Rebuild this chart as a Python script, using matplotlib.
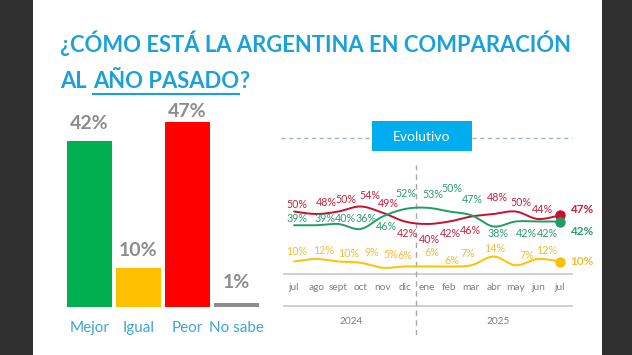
import numpy as np
import matplotlib
matplotlib.use("Agg")
from matplotlib import pyplot as plt
from matplotlib.patches import Rectangle
from matplotlib.lines import Line2D

plt.rcParams['font.family'] = ['Lato', 'DejaVu Sans']

# ---------------------------------------------------------------- data
categorias = ['Mejor', 'Igual', 'Peor', 'No sabe']
valores = [42, 10, 47, 1]

meses = ['jul', 'ago', 'sept', 'oct', 'nov', 'dic',
         'ene', 'feb', 'mar', 'abr', 'may', 'jun', 'jul']
anios = ['2024', '2025']

peor = [50, 48, 50, 54, 49, 42, 40, 42, 46, 48, 50, 44, 47]
mejor = [39, 39, 40, 36, 46, 52, 53, 50, 47, 38, 42, 42, 42]
igual = [10, 12, 10, 9, 5, 6, 6, 6, 7, 14, 7, 12, 10]

# ---------------------------------------------------------------- styles
W, H = 632, 355
AZUL = '#1BA1DA'
GRIS = '#8C8C8C'
colores_barras = ['#00B050', '#FFC000', '#FF0000', GRIS]
TITULO = 15.8

# label offsets (pixels, image direction) for each month label of the lines
dx_peor = [3, 10, 8, 9, 6, 3, 2, 1, -1, 4, 5, 5]
dy_peor = [-7, -12, -12, -11, -9, 12, 15, 12, 14, -17, -9, -10]
dx_mejor = [3, 9, 7, 6, 4, 1, 6, 3, 1, 4, 11, 10]
dy_mejor = [-7, -7, -6, -11, 10, -16, -13, -23, -16, 7, 12, 12]
dx_igual = [3, 7, 10, 11, 8, 0, 5, 3, -4, 1, 11, 9]
dy_igual = [-10, -9, -8, -10, -13, -11, -14, -6, -12, -8, -10, -8]


def fx(px):
    return px / W


def fy(py):
    return 1 - py / H


def smooth(xs, ys, n=16):
    # catmull-rom curve through the points, only for drawing
    p = np.column_stack([xs, ys]).astype(float)
    p = np.vstack([p[0], p, p[-1]])
    out = []
    t = np.linspace(0, 1, n, endpoint=False)[:, None]
    for i in range(1, len(p) - 2):
        p0, p1, p2, p3 = p[i - 1], p[i], p[i + 1], p[i + 2]
        out.append(0.5 * ((2 * p1) + (-p0 + p2) * t
                          + (2 * p0 - 5 * p1 + 4 * p2 - p3) * t ** 2
                          + (-p0 + 3 * p1 - 3 * p2 + p3) * t ** 3))
    out.append(p[-2][None])
    c = np.vstack(out)
    return c[:, 0], c[:, 1]


fig = plt.figure(figsize=(W / 100, H / 100), dpi=100)
fig.patch.set_facecolor('#303030')
fig.add_artist(Rectangle((fx(33), 0), fx(602 - 33), 1, transform=fig.transFigure,
                         facecolor='white', edgecolor='none', zorder=0))

# ---------------------------------------------------------------- title
fig.text(fx(60), fy(52), '¿CÓMO ESTÁ LA ARGENTINA EN COMPARACIÓN', color=AZUL,
         fontsize=TITULO, fontweight='bold', va='baseline', ha='left')
fig.text(fx(60), fy(88), 'AL', color=AZUL, fontsize=TITULO, fontweight='bold', va='baseline')
t2 = fig.text(fx(93), fy(88), 'AÑO PASADO', color=AZUL, fontsize=TITULO, fontweight='bold',
              va='baseline')
r = fig.canvas.get_renderer()
bb = t2.get_window_extent(r)
fig.text(bb.x1 / W, fy(88), '?', color=AZUL, fontsize=TITULO, fontweight='bold', va='baseline')
fig.add_artist(Line2D([bb.x0 / W, bb.x1 / W], [fy(93.5), fy(93.5)], color=AZUL, lw=1.5,
                      transform=fig.transFigure))

# ---------------------------------------------------------------- bars
ax1 = fig.add_axes([fx(65), fy(307), fx(196), 217 / H])
x = np.arange(len(categorias))
ax1.bar(x, valores, width=0.92, color=colores_barras)
ax1.set_xlim(-0.5, 3.5)
ax1.set_ylim(0, 55)
ax1.axis('off')
gap = [9, 9, 2, 12]
for i, v in enumerate(valores):
    ax1.annotate(f'{v}%', (x[i], v), xytext=(0, gap[i]), textcoords='offset pixels',
                 ha='center', va='bottom', fontsize=14, fontweight='bold', color=GRIS)
    ax1.annotate(categorias[i], (x[i], 0), xytext=(0, -21), textcoords='offset pixels',
                 ha='center', va='center', fontsize=11, color='#3FA6CF')

# ---------------------------------------------------------------- evolutivo header
fig.add_artist(Rectangle((fx(372), fy(151)), fx(100), 30 / H, transform=fig.transFigure,
                         facecolor='#00AEEF', edgecolor='none'))
fig.text(fx(422), fy(137), 'Evolutivo', color='white', fontsize=10, ha='center', va='center')
for a, b in [(281, 372), (472, 572)]:
    fig.add_artist(Line2D([fx(a), fx(b)], [fy(138), fy(138)], color='#9DB4C6', lw=1,
                          ls=(0, (3, 2.5)), transform=fig.transFigure))

# ---------------------------------------------------------------- lines
ax2 = fig.add_axes([fx(283), fy(335), fx(290.3), 170 / H])
ax2.set_xlim(-0.5, 12.6)
ax2.set_ylim(-48.8, 87.2)
ax2.axis('off')
xm = np.arange(len(meses))

ax2.axhline(0, color='#C8C8C8', lw=1.2)
ax2.axhline(-25.6, color='#C8C8C8', lw=1.2)
ax2.axvline(5.5, color='#A8A8A8', lw=1, ls=(0, (4, 3)))

series = [
    (peor, '#C8102E', '#C8203A', dx_peor, dy_peor, (10, -6)),
    (mejor, '#1F9E62', '#2A9D6F', dx_mejor, dy_mejor, (10, 10)),
    (igual, '#FFC000', '#F2BE3A', dx_igual, dy_igual, (10, 0)),
]
for vals, c_line, c_txt, dxs, dys, fin in series:
    sx, sy = smooth(xm, vals)
    ax2.plot(sx, sy, color=c_line, lw=1.4, solid_capstyle='round')
    ax2.plot(xm[-1], vals[-1], 'o', color=c_line, ms=6.5)
    for i in range(len(vals) - 1):
        ax2.annotate(f'{vals[i]}%', (xm[i], vals[i]), xytext=(dxs[i], -dys[i]),
                     textcoords='offset pixels', ha='center', va='center',
                     fontsize=7.7, color=c_txt)
    ax2.annotate(f'{vals[-1]}%', (xm[-1], vals[-1]), xytext=(fin[0], -fin[1]),
                 textcoords='offset pixels', ha='left', va='center',
                 fontsize=8.5, fontweight='bold', color=c_txt)

for i, m in enumerate(meses):
    ax2.text(xm[i], -11.2, m, ha='center', va='center', fontsize=7.3, color='#7F7F7F')
ax2.text(2.6, -38.4, anios[0], ha='center', va='center', fontsize=7.3, color='#7F7F7F')
ax2.text(9.2, -38.4, anios[1], ha='center', va='center', fontsize=7.3, color='#7F7F7F')

fig.savefig('out.png', dpi=100, facecolor=fig.get_facecolor())
